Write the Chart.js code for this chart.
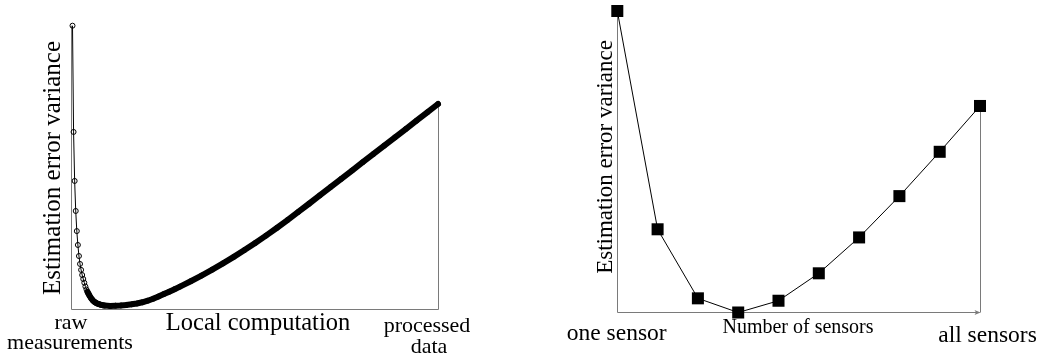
<!DOCTYPE html>
<html>
<head>
<meta charset="utf-8">
<script src="https://cdn.jsdelivr.net/npm/chart.js@4/dist/chart.umd.min.js"></script>
<style>
  html, body { margin: 0; padding: 0; background: #fff; width: 1041px; height: 356px; overflow: hidden; }
  canvas { position: absolute; top: 0; }
  #left { left: 0; }
  #right { left: 540px; }
</style>
</head>
<body>
<canvas id="left" width="520" height="356"></canvas>
<canvas id="right" width="501" height="356"></canvas>
<script>
// Left panel: estimation error variance versus amount of local computation
const computeLevel = [
  0, 1, 2, 3, 4, 5, 6, 7, 8, 9, 10, 11, 12, 13, 14, 15, 16, 17, 18, 19, 20,
  21, 22, 23, 24, 25, 26, 27, 28, 29, 30,
  35, 40, 45, 50, 55, 60, 65, 70, 75, 80, 85, 90, 95, 100,
  110, 120, 130, 140, 150, 160, 170, 180, 190, 200, 210, 220, 230, 240,
  250, 260, 270, 280, 290, 300, 310, 320, 330, 340
];
const errVariance = [
  100, 62.5, 45.2, 34.6, 27.5, 22.6, 18.7, 15.9, 13.8, 12.0, 10.6, 9.25, 7.94, 6.88, 6.0, 5.29,
  4.59, 3.99, 3.46, 3.0, 2.65, 2.36, 2.12, 1.94, 1.8, 1.66, 1.55, 1.45, 1.34, 1.27, 1.2,
  1.06, 1.16, 1.26, 1.42, 1.65, 1.96, 2.38, 2.93, 3.62, 4.42, 5.26, 6.12, 7.0, 7.9,
  9.8, 11.8, 13.9, 16.1, 18.4, 20.8, 23.3, 25.9, 28.6, 31.4, 34.25, 37.15, 40.08, 43.02,
  45.95, 48.88, 51.81, 54.74, 57.67, 60.6, 63.53, 66.46, 69.4, 72.36
];
// Points from this level on are packed so tightly that their markers merge into a band
const denseFrom = 14;

// Right panel: estimation error variance versus number of sensors used
const sensorCount = [1, 2, 3, 4, 5, 6, 7, 8, 9, 10];
const sensorVariance = [100, 27.6, 4.7, 0, 3.9, 13.0, 24.9, 38.6, 53.3, 68.5];

// Texts
const yTitle = 'Estimation error variance';
const leftStartLabel = ['raw', 'measurements'];
const leftAxisTitle = 'Local computation';
const leftEndLabel = ['processed', 'data'];
const rightStartLabel = 'one sensor';
const rightAxisTitle = 'Number of sensors';
const rightEndLabel = 'all sensors';

const SERIF = '"Liberation Serif", "DejaVu Serif", serif';
const AXIS_GREY = '#7a7a7a';

const curvePts = computeLevel.map((x, i) => ({ x, y: errVariance[i] }));
const sensorPts = sensorCount.map((x, i) => ({ x, y: sensorVariance[i] }));

function crisp(v) { return Math.round(v - 0.5) + 0.5; }

function drawText(ctx, text, x, y, size, rotate) {
  ctx.save();
  ctx.font = size + 'px ' + SERIF;
  ctx.fillStyle = '#000';
  ctx.textAlign = 'center';
  ctx.textBaseline = 'alphabetic';
  ctx.translate(x, y);
  if (rotate) ctx.rotate(-Math.PI / 2);
  ctx.fillText(text, 0, 0);
  ctx.restore();
}

const leftDecor = {
  id: 'leftDecor',
  beforeDatasetsDraw(chart) {
    const { ctx, scales: { x, y } } = chart;
    const first = curvePts[0], last = curvePts[curvePts.length - 1];
    const xl = crisp(x.getPixelForValue(x.min) - 1);
    const xr = crisp(x.getPixelForValue(last.x));
    const yb = crisp(y.getPixelForValue(0));
    ctx.save();
    ctx.strokeStyle = AXIS_GREY;
    ctx.lineWidth = 1;
    ctx.beginPath();
    ctx.moveTo(xl, y.getPixelForValue(first.y));
    ctx.lineTo(xl, yb);
    ctx.lineTo(xr, yb);
    ctx.lineTo(xr, y.getPixelForValue(last.y));
    ctx.stroke();
    ctx.restore();
  },
  afterDraw(chart) {
    const { ctx } = chart;
    drawText(ctx, yTitle, 60, 168, 25, true);
    drawText(ctx, leftStartLabel[0], 71, 329, 22);
    drawText(ctx, leftStartLabel[1], 70, 349, 22);
    drawText(ctx, leftAxisTitle, 258, 329.5, 24.5);
    drawText(ctx, leftEndLabel[0], 427, 331.5, 22);
    drawText(ctx, leftEndLabel[1], 429, 353, 22);
  }
};

const rightDecor = {
  id: 'rightDecor',
  beforeDatasetsDraw(chart) {
    const { ctx, scales: { x, y } } = chart;
    const first = sensorPts[0], last = sensorPts[sensorPts.length - 1];
    const xl = crisp(x.getPixelForValue(first.x));
    const xr = crisp(x.getPixelForValue(last.x));
    const yb = crisp(y.getPixelForValue(0));
    ctx.save();
    ctx.strokeStyle = AXIS_GREY;
    ctx.fillStyle = AXIS_GREY;
    ctx.lineWidth = 1;
    ctx.beginPath();
    ctx.moveTo(xl, y.getPixelForValue(first.y));
    ctx.lineTo(xl, yb);
    ctx.lineTo(xr - 1, yb);
    ctx.stroke();
    // arrow head at the end of the horizontal axis
    ctx.beginPath();
    ctx.moveTo(xr, yb);
    ctx.lineTo(xr - 6, yb - 2.5);
    ctx.lineTo(xr - 4.5, yb);
    ctx.lineTo(xr - 6, yb + 2.5);
    ctx.closePath();
    ctx.fill();
    // drop line from the last point
    ctx.beginPath();
    ctx.moveTo(xr, yb);
    ctx.lineTo(xr, y.getPixelForValue(last.y));
    ctx.stroke();
    ctx.restore();
  },
  afterDraw(chart) {
    const { ctx } = chart;
    drawText(ctx, yTitle, 72, 157, 23, true);
    drawText(ctx, rightStartLabel, 76.7, 339.5, 23.5);
    drawText(ctx, rightAxisTitle, 258, 333, 20);
    drawText(ctx, rightEndLabel, 447.5, 341.7, 23.5);
  }
};

const common = {
  responsive: false,
  animation: false,
  events: [],
  plugins: { legend: { display: false }, tooltip: { enabled: false } }
};

new Chart(document.getElementById('left'), {
  type: 'line',
  data: {
    datasets: [
      {
        data: curvePts,
        borderColor: '#000',
        borderWidth: 1,
        pointRadius: 2.5,
        pointBorderWidth: 1,
        pointBorderColor: '#000',
        pointBackgroundColor: 'rgba(0,0,0,0)',
        tension: 0,
        clip: false
      },
      {
        data: curvePts.filter(p => p.x >= denseFrom),
        borderColor: '#000',
        borderWidth: 6,
        borderCapStyle: 'round',
        borderJoinStyle: 'round',
        pointRadius: 0,
        tension: 0,
        clip: false
      }
    ]
  },
  options: Object.assign({}, common, {
    layout: { padding: { left: 72.5, right: 82, top: 25.7, bottom: 47 } },
    scales: {
      x: { type: 'linear', min: 0, max: 340, display: false },
      y: { type: 'linear', min: 0, max: 100, display: false }
    }
  }),
  plugins: [leftDecor]
});

new Chart(document.getElementById('right'), {
  type: 'line',
  data: {
    datasets: [{
      data: sensorPts,
      borderColor: '#000',
      borderWidth: 1,
      pointStyle: 'rect',
      pointRadius: 8.5,
      pointBorderWidth: 0,
      pointBackgroundColor: '#000',
      tension: 0,
      clip: false
    }]
  },
  options: Object.assign({}, common, {
    layout: { padding: { left: 77.3, right: 61, top: 11, bottom: 43.5 } },
    scales: {
      x: { type: 'linear', min: 1, max: 10, display: false },
      y: { type: 'linear', min: 0, max: 100, display: false }
    }
  }),
  plugins: [rightDecor]
});
</script>
</body>
</html>
